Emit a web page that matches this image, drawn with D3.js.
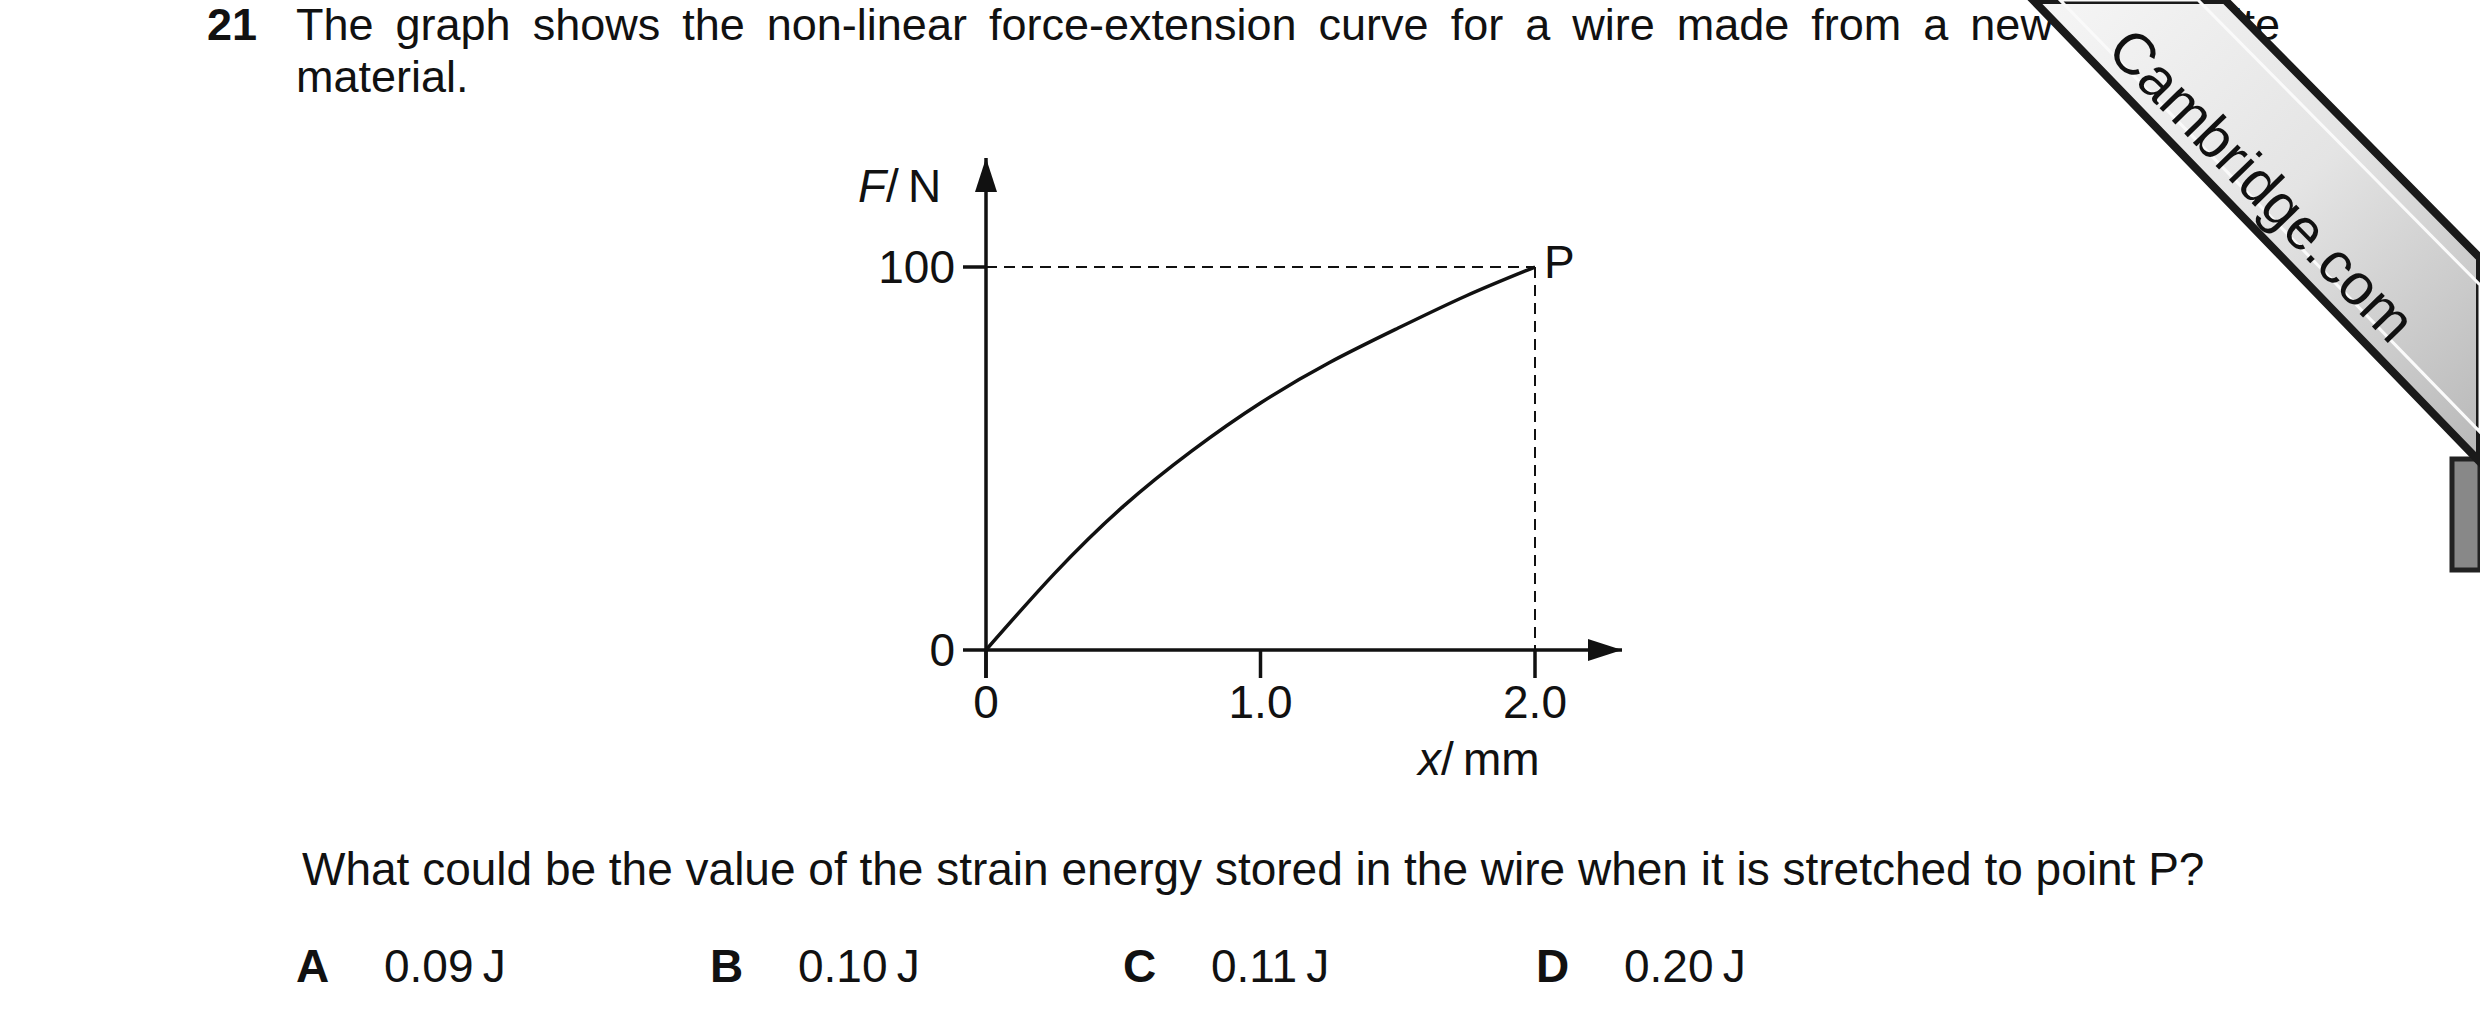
<!DOCTYPE html>
<html><head><meta charset="utf-8">
<script src="https://cdn.jsdelivr.net/npm/d3@7"></script>
<style>body{margin:0;background:#fff}svg{display:block}text{font-family:"Liberation Sans",Arial,sans-serif;fill:#111}</style>
</head><body>
<script>
const extension = [0, 0.25, 0.5, 0.75, 1.0, 1.25, 1.5, 1.75, 2.0];
const force = [0, 20, 37.5, 52, 64.5, 75, 84, 92.5, 100];
const xTicks = [0, 1.0, 2.0];
const yTicks = [0, 100];
const titleWords = ["The","graph","shows","the","non-linear","force-extension","curve","for","a","wire","made","from","a","new","composite"];
const options = [["A","0.09\u2009J"],["B","0.10\u2009J"],["C","0.11\u2009J"],["D","0.20\u2009J"]];

const W=2480,H=1024;
const svg=d3.select("body").append("svg").attr("width",W).attr("height",H);
const defs=svg.append("defs");
defs.append("marker").attr("id","arr").attr("viewBox","0 0 10 10").attr("refX",10).attr("refY",5)
 .attr("markerWidth",34).attr("markerHeight",22).attr("markerUnits","userSpaceOnUse").attr("orient","auto")
 .attr("preserveAspectRatio","none")
 .append("path").attr("d","M0,0L10,5L0,10Z").attr("fill","#111");

// title
const fs=45;
svg.append("text").attr("x",207).attr("y",40).attr("font-size",fs).attr("font-weight","bold").text("21");
const tg=svg.append("g");
const ws=titleWords.map(w=>tg.append("text").attr("y",40).attr("font-size",fs).text(w));
const lens=ws.map(t=>t.node().getComputedTextLength());
const x0=296,x1=2280;
const gap=(x1-x0-d3.sum(lens))/(ws.length-1);
let cx=x0; ws.forEach((t,i)=>{t.attr("x",cx);cx+=lens[i]+gap;});
svg.append("text").attr("x",296).attr("y",92).attr("font-size",fs).text("material.");

// chart
const lf=46;
const x=d3.scaleLinear().domain([0,2]).range([986,1535]);
const y=d3.scaleLinear().domain([0,100]).range([650,267]);
const ax=svg.append("g").attr("stroke","#111").attr("stroke-width",3.5);
ax.append("line").attr("x1",x(0)).attr("x2",1622).attr("y1",y(0)).attr("y2",y(0)).attr("marker-end","url(#arr)");
ax.append("line").attr("x1",x(0)).attr("x2",x(0)).attr("y1",y(0)+28).attr("y2",158).attr("marker-end","url(#arr)");
xTicks.forEach(v=>{
 ax.append("line").attr("x1",x(v)).attr("x2",x(v)).attr("y1",y(0)).attr("y2",y(0)+28);
 svg.append("text").attr("x",x(v)).attr("y",718).attr("text-anchor","middle").attr("font-size",lf).text(v===0?"0":v.toFixed(1));
});
yTicks.forEach(v=>{
 ax.append("line").attr("x1",963).attr("x2",x(0)).attr("y1",y(v)).attr("y2",y(v));
 svg.append("text").attr("x",955).attr("y",y(v)+16).attr("text-anchor","end").attr("font-size",lf).text(v);
});
svg.append("line").attr("x1",x(0)).attr("x2",x(2)).attr("y1",y(100)).attr("y2",y(100))
 .attr("stroke","#111").attr("stroke-width",2).attr("stroke-dasharray","11,7");
svg.append("line").attr("x1",x(2)).attr("x2",x(2)).attr("y1",y(100)).attr("y2",y(0))
 .attr("stroke","#111").attr("stroke-width",2).attr("stroke-dasharray","11,7");
svg.append("path").datum(extension.map((e,i)=>[e,force[i]]))
 .attr("d",d3.line().x(d=>x(d[0])).y(d=>y(d[1])).curve(d3.curveNatural))
 .attr("fill","none").attr("stroke","#111").attr("stroke-width",3.5);
svg.append("text").attr("x",1544).attr("y",278).attr("font-size",lf).text("P");
const fl=svg.append("text").attr("x",858).attr("y",202).attr("font-size",lf);
fl.append("tspan").attr("font-style","italic").text("F");fl.append("tspan").text("/\u2009N");
const xl=svg.append("text").attr("x",1418).attr("y",775).attr("font-size",lf);
xl.append("tspan").attr("font-style","italic").text("x");xl.append("tspan").text("/\u2009mm");

// question
svg.append("text").attr("x",302).attr("y",885).attr("font-size",46).text("What could be the value of the strain energy stored in the wire when it is stretched to point P?");
const ox=[296,710,1123,1536];
options.forEach((o,i)=>{
 svg.append("text").attr("x",ox[i]).attr("y",982).attr("font-size",46).attr("font-weight","bold").text(o[0]);
 svg.append("text").attr("x",ox[i]+88).attr("y",982).attr("font-size",46).text(o[1]);
});

// ribbon
const grad=defs.append("linearGradient").attr("id","rg").attr("x1","0").attr("y1","0").attr("x2","1").attr("y2","1");
grad.append("stop").attr("offset","0").attr("stop-color","#f6f6f6");
grad.append("stop").attr("offset","0.5").attr("stop-color","#e4e4e4");
grad.append("stop").attr("offset","1").attr("stop-color","#b8b8b8");
svg.append("path").attr("d","M2452,459L2480,459L2480,570L2452,570Z").attr("fill","#888").attr("stroke","#222").attr("stroke-width",5);
svg.append("path").attr("d","M2033,0L2225,0L2480,258L2480,462L2033,0Z").attr("fill","url(#rg)").attr("stroke","#1a1a1a").attr("stroke-width",8);
svg.append("path").attr("d","M2060,0L2198,0L2480,285L2480,432Z").attr("fill","none").attr("stroke","#fafafa").attr("stroke-width",3);
svg.append("text").attr("transform","translate(2262,185) rotate(45.8)").attr("text-anchor","middle").attr("font-size",58)
 .attr("dy",20).text("Cambridge.com");
</script>
</body></html>
